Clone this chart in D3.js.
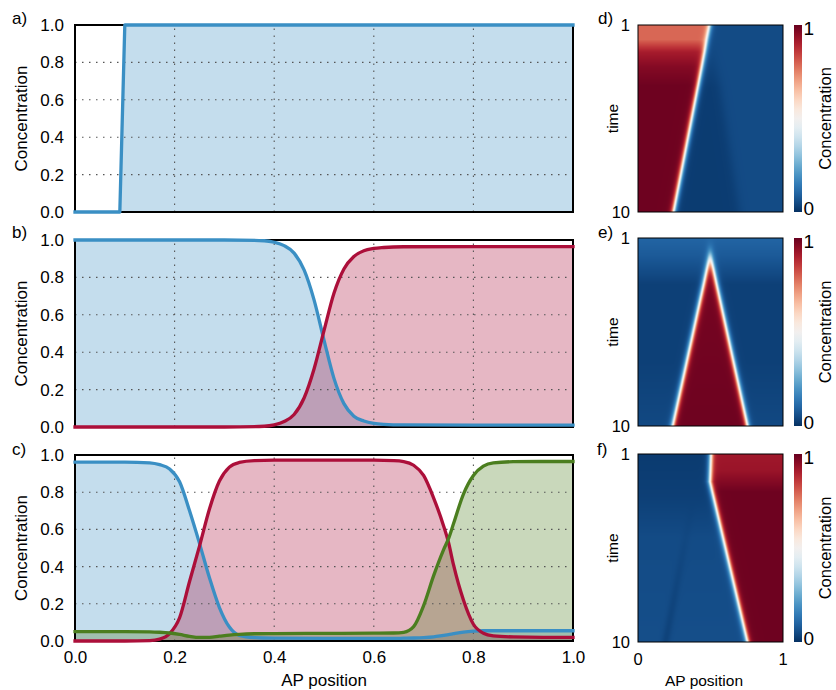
<!DOCTYPE html>
<html>
<head>
<meta charset="utf-8">
<script src="https://cdn.jsdelivr.net/npm/d3@7"></script>
<style>
  body { margin: 0; background: #fff; }
  svg { display: block; }
  text { font-family: "Liberation Sans", Arial, Helvetica, sans-serif; fill: #000; }
</style>
</head>
<body>
<svg id="fig" width="836" height="690"></svg>
<script>
// ---------------- data ----------------
const yTicks = [0, 0.2, 0.4, 0.6, 0.8, 1.0];
const xTicks = [0, 0.2, 0.4, 0.6, 0.8, 1.0];
const gridVals = [0.2, 0.4, 0.6, 0.8];

// a) one gene: step profile
const aX    = [0, 0.09, 0.10, 1.0];
const aBlue = [0, 0, 1, 1];

// b) two genes
const bX    = [0, 0.30, 0.38, 0.40, 0.42, 0.44, 0.46, 0.48, 0.50, 0.52, 0.54, 0.56, 0.58, 0.60, 0.62, 0.66, 0.80, 1.0];
const bBlue = [1.0, 1.0, 0.996, 0.988, 0.97, 0.93, 0.84, 0.68, 0.465, 0.26, 0.125, 0.058, 0.032, 0.019, 0.014, 0.011, 0.01, 0.01];
const bRed  = [0, 0, 0.004, 0.011, 0.029, 0.067, 0.155, 0.31, 0.515, 0.715, 0.845, 0.912, 0.943, 0.955, 0.960, 0.964, 0.965, 0.965];

// c) three genes
const cX     = [0, 0.10, 0.15, 0.17, 0.19, 0.21, 0.23, 0.25, 0.27, 0.29, 0.31, 0.33, 0.36, 0.40, 0.50, 0.60, 0.64, 0.66, 0.68, 0.70, 0.72, 0.74, 0.75, 0.76, 0.78, 0.80, 0.82, 0.84, 0.88, 0.94, 1.0];
const cBlue  = [0.962, 0.962, 0.958, 0.948, 0.925, 0.856, 0.70, 0.525, 0.34, 0.18, 0.075, 0.03, 0.018, 0.015, 0.014, 0.014, 0.014, 0.015, 0.016, 0.018, 0.022, 0.03, 0.034, 0.039, 0.048, 0.053, 0.055, 0.055, 0.055, 0.055, 0.055];
const cRed   = [0, 0, 0.002, 0.01, 0.04, 0.125, 0.32, 0.51, 0.71, 0.86, 0.935, 0.96, 0.97, 0.972, 0.972, 0.972, 0.97, 0.965, 0.945, 0.89, 0.77, 0.62, 0.53, 0.41, 0.22, 0.09, 0.042, 0.028, 0.022, 0.02, 0.02];
const cGreen = [0.05, 0.05, 0.049, 0.047, 0.043, 0.035, 0.025, 0.019, 0.02, 0.026, 0.032, 0.036, 0.039, 0.04, 0.041, 0.042, 0.043, 0.047, 0.077, 0.19, 0.35, 0.49, 0.55, 0.63, 0.79, 0.89, 0.94, 0.958, 0.964, 0.965, 0.965];

// heat maps: time 1..10 (rows) against AP position 0..1 (columns)
const timeTicks = [1, 10];
const cbTicks = [0, 1];

// d) one front moving anteriorly
const dFrontT  = [1, 10],                    dFrontX  = [0.495, 0.245];
const dLeftT   = [1, 1.7, 2.3, 3.0, 3.9, 10], dLeftV   = [0.79, 0.79, 0.91, 0.96, 0.99, 0.99];
const dNearT   = [1, 2.5, 4, 10],             dNearV   = [0.05, 0.04, 0.022, 0.022];
const dFarT    = [1, 10],                     dFarV    = [0.05, 0.05];
const dShadowT = [1, 10],                     dShadowX = [0.50, 0.70];

// e) widening central domain
const eCentre = 0.4975;
const eBackT = [1, 1.8, 3.2, 7, 10], eBackV = [0.10, 0.08, 0.03, 0.03, 0.045];
const eHalfT = [1, 10],              eHalfW = [-0.025, 0.2575];
const eInT   = [1, 2.5, 10],         eInV   = [0.95, 0.98, 0.99];

// f) front moving posteriorly
const fFrontT  = [1, 2.33, 10],     fFrontX  = [0.503, 0.497, 0.756];
const fLeftT   = [1, 3, 5, 10],     fLeftV   = [0.02, 0.028, 0.05, 0.056];
const fRightT  = [1, 1.8, 2.8, 10], fRightV  = [0.92, 0.93, 0.99, 0.99];
const fStripeT = [3.2, 10],         fStripeX = [0.38, 0.19], fStripeD = [0, 0.022];

// ---------------- styling ----------------
const BLUE = "#3a8fc4", RED = "#ac0f3a", GREEN = "#4b7e1f";
const FONT = 17;

const svg = d3.select("#fig");
const x = d3.scaleLinear().domain([0, 1]).range([75, 573]);

const panels = [
  { top: 25,  bottom: 212, label: "a)", ly: 24,  xAxis: false,
    series: [{ xs: aX, ys: aBlue, color: BLUE, curve: d3.curveLinear }] },
  { top: 240, bottom: 427, label: "b)", ly: 238, xAxis: false,
    series: [{ xs: bX, ys: bBlue, color: BLUE, curve: d3.curveMonotoneX },
             { xs: bX, ys: bRed,  color: RED,  curve: d3.curveMonotoneX }] },
  { top: 455, bottom: 641, label: "c)", ly: 455, xAxis: true,
    series: [{ xs: cX, ys: cBlue,  color: BLUE,  curve: d3.curveMonotoneX },
             { xs: cX, ys: cRed,   color: RED,   curve: d3.curveMonotoneX },
             { xs: cX, ys: cGreen, color: GREEN, curve: d3.curveMonotoneX }] }
];

panels.forEach(p => {
  const y = d3.scaleLinear().domain([0, 1]).range([p.bottom, p.top]);
  const g = svg.append("g");
  const pts = s => s.xs.map((v, i) => [v, s.ys[i]]);

  // shaded areas under each profile
  p.series.forEach(s => {
    g.append("path")
      .attr("d", d3.area().x(d => x(d[0])).y0(y(0)).y1(d => y(d[1])).curve(s.curve)(pts(s)))
      .attr("fill", s.color).attr("fill-opacity", 0.3);
  });

  // dotted grid
  g.selectAll(".hg").data(gridVals).join("line")
    .attr("x1", x(0)).attr("x2", x(1)).attr("y1", d => y(d)).attr("y2", d => y(d))
    .attr("stroke", "#555").attr("stroke-width", 1.1).attr("stroke-dasharray", "1.5,5.5");
  g.selectAll(".vg").data(gridVals).join("line")
    .attr("y1", y(0)).attr("y2", y(1)).attr("x1", d => x(d)).attr("x2", d => x(d))
    .attr("stroke", "#555").attr("stroke-width", 1.1).attr("stroke-dasharray", "1.5,5.5");

  // frame
  g.append("rect").attr("x", x(0)).attr("y", y(1))
    .attr("width", x(1) - x(0)).attr("height", y(0) - y(1))
    .attr("fill", "none").attr("stroke", "#000").attr("stroke-width", 2);

  // profile lines
  p.series.forEach(s => {
    g.append("path")
      .attr("d", d3.line().x(d => x(d[0])).y(d => y(d[1])).curve(s.curve)(pts(s)))
      .attr("fill", "none").attr("stroke", s.color).attr("stroke-width", 3.3)
      .attr("stroke-linecap", "square").attr("stroke-linejoin", "round");
  });

  // y axis labels
  const ya = g.append("g").attr("transform", `translate(${x(0)},0)`)
    .call(d3.axisLeft(y).tickValues(yTicks).tickFormat(d3.format(".1f")).tickSize(0).tickPadding(11));
  ya.select(".domain").remove();
  ya.selectAll("text").attr("font-size", FONT).attr("font-family", null).attr("fill", "#000");

  if (p.xAxis) {
    const xa = g.append("g").attr("transform", `translate(0,${p.bottom})`)
      .call(d3.axisBottom(x).tickValues(xTicks).tickFormat(d3.format(".1f")).tickSize(0).tickPadding(10));
    xa.select(".domain").remove();
    xa.selectAll("text").attr("font-size", FONT).attr("font-family", null).attr("fill", "#000");
  }

  g.append("text").attr("transform", `translate(27,${(p.top + p.bottom) / 2}) rotate(-90)`)
    .attr("text-anchor", "middle").attr("font-size", FONT).text("Concentration");
  g.append("text").attr("x", 12).attr("y", p.ly).attr("font-size", FONT).text(p.label);
});

svg.append("text").attr("x", (x(0) + x(1)) / 2).attr("y", 686)
  .attr("text-anchor", "middle").attr("font-size", FONT).text("AP position");

// ---------------- heat maps ----------------
const colour = d3.scaleSequential(v => d3.interpolateRdBu(1 - v)).domain([0, 1]);
const kf = (ts, vs) => d3.scaleLinear().domain(ts).range(vs).clamp(true);
const edge = (d, w) => 1 / (1 + Math.exp(-d / w));
const W_EDGE = 0.0105;

const dFront = kf(dFrontT, dFrontX), dLeft = kf(dLeftT, dLeftV), dNear = kf(dNearT, dNearV),
      dFar = kf(dFarT, dFarV), dShadow = kf(dShadowT, dShadowX);
const dValue = (p, t) => {
  const right = dNear(t) + (dFar(t) - dNear(t)) * edge(p - dShadow(t), 0.02);
  return right + (dLeft(t) - right) * edge(dFront(t) - p, W_EDGE);
};

const eBack = kf(eBackT, eBackV), eHalf = kf(eHalfT, eHalfW), eIn = kf(eInT, eInV);
const eValue = (p, t) => {
  const h = eHalf(t);
  const frac = edge(p - (eCentre - h), W_EDGE) * edge((eCentre + h) - p, W_EDGE);
  return eBack(t) + (eIn(t) - eBack(t)) * frac;
};

const fFront = kf(fFrontT, fFrontX), fLeft = kf(fLeftT, fLeftV), fRight = kf(fRightT, fRightV),
      fStripe = kf(fStripeT, fStripeX), fDepth = kf(fStripeT, fStripeD);
const fValue = (p, t) => {
  const dx = (p - fStripe(t)) / 0.03;
  const left = fLeft(t) - fDepth(t) * Math.exp(-dx * dx);
  return left + (fRight(t) - left) * edge(p - fFront(t), W_EDGE);
};

const hx = d3.scaleLinear().domain([0, 1]).range([638, 783]);
const maps = [
  { top: 25,  bottom: 212, label: "d)", lx: 598, ly: 24,  value: dValue, xAxis: false },
  { top: 238, bottom: 426, label: "e)", lx: 598, ly: 238, value: eValue, xAxis: false },
  { top: 454, bottom: 642, label: "f)", lx: 597, ly: 455, value: fValue, xAxis: true }
];

// colour bar gradient
const defs = svg.append("defs");
const grad = defs.append("linearGradient").attr("id", "cbar")
  .attr("x1", 0).attr("y1", 1).attr("x2", 0).attr("y2", 0);
grad.selectAll("stop").data(d3.range(0, 1.0001, 0.05)).join("stop")
  .attr("offset", d => d).attr("stop-color", d => colour(d));

maps.forEach(m => {
  const ht = d3.scaleLinear().domain([1, 10]).range([m.top, m.bottom]);
  const w = Math.round(hx(1) - hx(0)), h = Math.round(m.bottom - m.top);
  const canvas = document.createElement("canvas");
  canvas.width = w; canvas.height = h;
  const ctx = canvas.getContext("2d");
  const img = ctx.createImageData(w, h);
  for (let j = 0; j < h; j++) {
    const t = ht.invert(m.top + j + 0.5);
    for (let i = 0; i < w; i++) {
      const p = hx.invert(hx(0) + i + 0.5);
      const c = d3.rgb(colour(m.value(p, t)));
      const k = 4 * (j * w + i);
      img.data[k] = c.r; img.data[k + 1] = c.g; img.data[k + 2] = c.b; img.data[k + 3] = 255;
    }
  }
  ctx.putImageData(img, 0, 0);

  const g = svg.append("g");
  g.append("image").attr("href", canvas.toDataURL())
    .attr("x", hx(0)).attr("y", m.top).attr("width", w).attr("height", h)
    .attr("preserveAspectRatio", "none");
  g.append("rect").attr("x", hx(0)).attr("y", m.top).attr("width", w).attr("height", h)
    .attr("fill", "none").attr("stroke", "#000").attr("stroke-width", 1);

  // time ticks
  g.selectAll(".tt").data(timeTicks).join("text")
    .attr("x", 630).attr("y", d => ht(d)).attr("dy", "0.36em")
    .attr("text-anchor", "end").attr("font-size", 16.5).text(d => d);
  g.append("text").attr("transform", `translate(618,${(m.top + m.bottom) / 2}) rotate(-90)`)
    .attr("text-anchor", "middle").attr("font-size", 15.5).text("time");

  // colour bar
  const cb = d3.scaleLinear().domain([0, 1]).range([m.bottom, m.top]);
  g.append("rect").attr("x", 794).attr("y", m.top).attr("width", 8).attr("height", m.bottom - m.top)
    .attr("fill", "url(#cbar)");
  g.selectAll(".cbt").data(cbTicks).join("text")
    .attr("x", 803.5).attr("y", d => cb(d) + (d === 1 ? 3 : -4)).attr("dy", "0.36em")
    .attr("font-size", 19).text(d => d);
  g.append("text").attr("transform", `translate(831,${(m.top + m.bottom) / 2}) rotate(-90)`)
    .attr("text-anchor", "middle").attr("font-size", 16.5).text("Concentration");

  g.append("text").attr("x", m.lx).attr("y", m.ly).attr("font-size", FONT).text(m.label);

  if (m.xAxis) {
    g.selectAll(".xt").data([0, 1]).join("text")
      .attr("x", d => hx(d)).attr("y", 665).attr("text-anchor", "middle")
      .attr("font-size", 16.5).text(d => d);
    g.append("text").attr("x", 704).attr("y", 686).attr("text-anchor", "middle")
      .attr("font-size", 15.5).text("AP position");
  }
});
</script>
</body>
</html>
